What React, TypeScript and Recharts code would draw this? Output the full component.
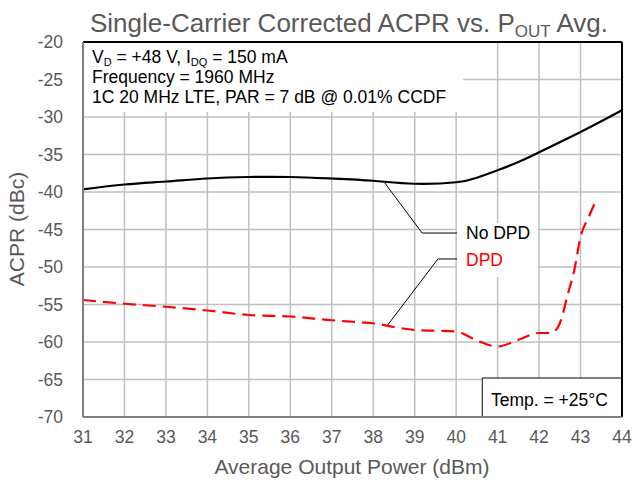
import React from "react";
import {
  LineChart,
  Line,
  XAxis,
  YAxis,
  CartesianGrid,
  ReferenceArea,
  ReferenceLine,
} from "recharts";

const noDpdX = [31, 32, 33, 34, 35, 36, 37, 38, 39, 40, 40.5, 41, 41.5, 42, 43, 44];
const noDpdY = [-39.65, -39.0, -38.6, -38.2, -38.0, -38.0, -38.2, -38.5, -38.9, -38.7, -38.1, -37.1, -36.0, -34.7, -32.0, -29.1];

const dpdX = [31, 32, 33, 34, 35, 36, 37, 37.5, 38, 38.5, 39, 39.5, 40, 40.5, 41, 41.5, 42, 42.3, 42.5, 42.7, 42.85, 43, 43.2, 43.4];
const dpdY = [-54.4, -54.9, -55.3, -55.8, -56.4, -56.6, -57.1, -57.3, -57.5, -58.0, -58.4, -58.5, -58.6, -59.8, -60.6, -59.7, -58.8, -58.8, -57.5, -53.5, -50.4, -46.0, -43.3, -40.8];

const xTicks = [31, 32, 33, 34, 35, 36, 37, 38, 39, 40, 41, 42, 43, 44];
const yTicks = [-70, -65, -60, -55, -50, -45, -40, -35, -30, -25, -20];

const noDpdData = noDpdX.map((x, i) => ({ x, y: noDpdY[i] }));
const dpdData = dpdX.map((x, i) => ({ x, y: dpdY[i] }));

const FONT = "'Liberation Sans', Arial, Helvetica, sans-serif";
const GRAY = "#595959";

export default function App() {
  return (
    <div style={{ position: "absolute", left: 0, top: 0, width: 634, height: 483, background: "#fff", fontFamily: FONT }}>
      <LineChart
        width={634}
        height={483}
        margin={{ top: 42, right: 12, bottom: 26, left: 23 }}
      >
        <CartesianGrid stroke="#c0c0c0" strokeWidth={1.5} />
        <XAxis
          type="number"
          dataKey="x"
          domain={[31, 44]}
          ticks={xTicks}
          allowDataOverflow
          height={40}
          tickLine={false}
          tickSize={6}
          tickMargin={8}
          axisLine={{ stroke: "#7f7f7f", strokeWidth: 2 }}
          tick={{ fill: GRAY, fontSize: 17.5, fontFamily: FONT }}
        />
        <YAxis
          type="number"
          dataKey="y"
          domain={[-70, -20]}
          ticks={yTicks}
          allowDataOverflow
          width={60}
          tickLine={false}
          tickSize={6}
          tickMargin={14}
          axisLine={{ stroke: "#7f7f7f", strokeWidth: 2 }}
          tick={{ fill: GRAY, fontSize: 17.5, fontFamily: FONT }}
        />
        <ReferenceArea x1={31} x2={40.17} y1={-29.33} y2={-20} fill="#fff" fillOpacity={1} stroke="none" />
        <ReferenceArea x1={40.02} x2={41.97} y1={-51.33} y2={-44.13} fill="#fff" fillOpacity={1} stroke="none" />
        <ReferenceArea x1={40.63} x2={44} y1={-70} y2={-64.8} fill="#fff" fillOpacity={1} stroke="#000" strokeWidth={1} />
        <ReferenceLine y={-20} stroke="#000" strokeWidth={2} />
        <ReferenceLine x={44} stroke="#000" strokeWidth={2} />
        <ReferenceLine segment={[{ x: 38.28, y: -38.8 }, { x: 39.18, y: -45.47 }]} stroke="#000" strokeWidth={1} />
        <ReferenceLine segment={[{ x: 39.18, y: -45.47 }, { x: 40.02, y: -45.47 }]} stroke="#000" strokeWidth={1} />
        <ReferenceLine segment={[{ x: 38.33, y: -57.87 }, { x: 39.56, y: -48.93 }]} stroke="#000" strokeWidth={1} />
        <ReferenceLine segment={[{ x: 39.56, y: -48.93 }, { x: 40.02, y: -48.93 }]} stroke="#000" strokeWidth={1} />
        <Line
          data={noDpdData}
          dataKey="y"
          type="natural"
          stroke="#000"
          strokeWidth={2.2}
          dot={false}
          isAnimationActive={false}
        />
        <Line
          data={dpdData}
          dataKey="y"
          type="monotone"
          stroke="#ff0000"
          strokeWidth={2.2}
          strokeDasharray="13 7"
          dot={false}
          isAnimationActive={false}
        />
      </LineChart>
      <svg
        width={634}
        height={483}
        style={{ position: "absolute", left: 0, top: 0, pointerEvents: "none" }}
        fontFamily={FONT}
      >
        <text x={90} y={32} fontSize={26} fill={GRAY}>
          Single-Carrier Corrected ACPR vs. P
          <tspan fontSize={17} dy={5}>OUT</tspan>
          <tspan dy={-5}> Avg.</tspan>
        </text>
        <text x={352} y={474} fontSize={21} fill={GRAY} textAnchor="middle">
          Average Output Power (dBm)
        </text>
        <text x={24} y={229} fontSize={21} fill={GRAY} textAnchor="middle" transform="rotate(-90 24 229)">
          ACPR (dBc)
        </text>
        <text x={92} y={63} fontSize={17.5} fill="#000">
          V<tspan fontSize={11} dy={3}>D</tspan>
          <tspan dy={-3}> = +48 V, I</tspan>
          <tspan fontSize={11} dy={3}>DQ</tspan>
          <tspan dy={-3}> = 150 mA</tspan>
        </text>
        <text x={92} y={83} fontSize={17.5} fill="#000">
          Frequency = 1960 MHz
        </text>
        <text x={92} y={103} fontSize={17.5} fill="#000">
          1C 20 MHz LTE, PAR = 7 dB @ 0.01% CCDF
        </text>
        <text x={466} y={239} fontSize={17.5} fill="#000">
          No DPD
        </text>
        <text x={466} y={266} fontSize={17.5} fill="#ff0000">
          DPD
        </text>
        <text x={491} y={406} fontSize={17.5} fill="#000">
          Temp. = +25°C
        </text>
      </svg>
    </div>
  );
}
